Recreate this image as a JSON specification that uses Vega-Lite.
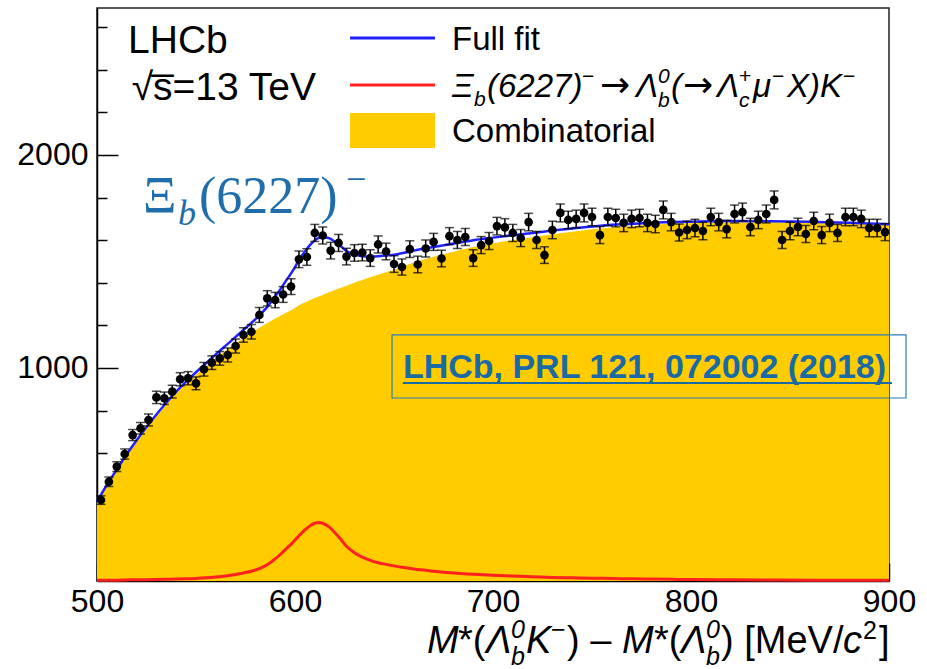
{
  "$schema": "https://vega.github.io/schema/vega-lite/v6.json",
  "width": 792,
  "height": 573,
  "autosize": "none",
  "padding": {"left": 97, "top": 8, "right": 38, "bottom": 88},
  "background": "white",
  "config": {
    "view": {"stroke": "#222", "strokeWidth": 1.5},
    "font": "Liberation Sans",
    "axis": {"labelOverlap": false, "labelBound": false, "labelFlush": false, "grid": false, "title": null, "zindex": 1},
    "text": {"font": "Liberation Sans", "align": "left", "baseline": "alphabetic", "color": "#000"}
  },
  "datasets": {
    "bins": [
      {"m": 502, "n": 380, "e": 20}, {"m": 506, "n": 466, "e": 22}, {"m": 510, "n": 537, "e": 23}, {"m": 514, "n": 596, "e": 24},
      {"m": 518, "n": 685, "e": 26}, {"m": 522, "n": 717, "e": 27}, {"m": 526, "n": 756, "e": 28}, {"m": 530, "n": 862, "e": 29},
      {"m": 534, "n": 858, "e": 29}, {"m": 538, "n": 889, "e": 30}, {"m": 542, "n": 947, "e": 31}, {"m": 546, "n": 952, "e": 31},
      {"m": 550, "n": 928, "e": 30}, {"m": 554, "n": 994, "e": 32}, {"m": 558, "n": 1025, "e": 32}, {"m": 562, "n": 1045, "e": 32},
      {"m": 566, "n": 1061, "e": 33}, {"m": 570, "n": 1103, "e": 33}, {"m": 574, "n": 1155, "e": 34}, {"m": 578, "n": 1170, "e": 34},
      {"m": 582, "n": 1249, "e": 35}, {"m": 586, "n": 1327, "e": 36}, {"m": 590, "n": 1319, "e": 36}, {"m": 594, "n": 1345, "e": 37},
      {"m": 598, "n": 1382, "e": 37}, {"m": 602, "n": 1510, "e": 39}, {"m": 606, "n": 1521, "e": 39}, {"m": 610, "n": 1634, "e": 40},
      {"m": 614, "n": 1622, "e": 40}, {"m": 618, "n": 1551, "e": 39}, {"m": 622, "n": 1587, "e": 40}, {"m": 626, "n": 1523, "e": 39},
      {"m": 630, "n": 1540, "e": 39}, {"m": 634, "n": 1542, "e": 39}, {"m": 638, "n": 1516, "e": 39}, {"m": 642, "n": 1580, "e": 40},
      {"m": 646, "n": 1547, "e": 39}, {"m": 650, "n": 1488, "e": 39}, {"m": 654, "n": 1474, "e": 38}, {"m": 658, "n": 1558, "e": 39},
      {"m": 662, "n": 1486, "e": 39}, {"m": 666, "n": 1561, "e": 40}, {"m": 670, "n": 1592, "e": 40}, {"m": 674, "n": 1514, "e": 39},
      {"m": 678, "n": 1619, "e": 40}, {"m": 682, "n": 1601, "e": 40}, {"m": 686, "n": 1615, "e": 40}, {"m": 690, "n": 1516, "e": 39},
      {"m": 694, "n": 1577, "e": 40}, {"m": 698, "n": 1596, "e": 40}, {"m": 702, "n": 1666, "e": 41}, {"m": 706, "n": 1660, "e": 41},
      {"m": 710, "n": 1634, "e": 40}, {"m": 714, "n": 1610, "e": 40}, {"m": 718, "n": 1685, "e": 41}, {"m": 722, "n": 1601, "e": 40},
      {"m": 726, "n": 1530, "e": 39}, {"m": 730, "n": 1648, "e": 41}, {"m": 734, "n": 1728, "e": 42}, {"m": 738, "n": 1695, "e": 41},
      {"m": 742, "n": 1700, "e": 41}, {"m": 746, "n": 1728, "e": 42}, {"m": 750, "n": 1709, "e": 41}, {"m": 754, "n": 1624, "e": 40},
      {"m": 758, "n": 1709, "e": 41}, {"m": 762, "n": 1704, "e": 41}, {"m": 766, "n": 1681, "e": 41}, {"m": 770, "n": 1700, "e": 41},
      {"m": 774, "n": 1704, "e": 41}, {"m": 778, "n": 1681, "e": 41}, {"m": 782, "n": 1676, "e": 41}, {"m": 786, "n": 1742, "e": 42},
      {"m": 790, "n": 1685, "e": 41}, {"m": 794, "n": 1636, "e": 40}, {"m": 798, "n": 1648, "e": 41}, {"m": 802, "n": 1657, "e": 41},
      {"m": 806, "n": 1643, "e": 41}, {"m": 810, "n": 1709, "e": 41}, {"m": 814, "n": 1685, "e": 41}, {"m": 818, "n": 1652, "e": 41},
      {"m": 822, "n": 1723, "e": 42}, {"m": 826, "n": 1732, "e": 42}, {"m": 830, "n": 1662, "e": 41}, {"m": 834, "n": 1695, "e": 41},
      {"m": 838, "n": 1723, "e": 42}, {"m": 842, "n": 1789, "e": 42}, {"m": 846, "n": 1601, "e": 40}, {"m": 850, "n": 1643, "e": 41},
      {"m": 854, "n": 1662, "e": 41}, {"m": 858, "n": 1629, "e": 40}, {"m": 862, "n": 1690, "e": 41}, {"m": 866, "n": 1624, "e": 40},
      {"m": 870, "n": 1681, "e": 41}, {"m": 874, "n": 1634, "e": 40}, {"m": 878, "n": 1709, "e": 41}, {"m": 882, "n": 1709, "e": 41},
      {"m": 886, "n": 1700, "e": 41}, {"m": 890, "n": 1657, "e": 41}, {"m": 894, "n": 1657, "e": 41}, {"m": 898, "n": 1638, "e": 40}
    ],
    "fit": [
      {"m": 500, "comb": 370, "sig": 3, "full": 373}, {"m": 505, "comb": 447, "sig": 4, "full": 451},
      {"m": 510, "comb": 520, "sig": 4, "full": 524}, {"m": 515, "comb": 590, "sig": 5, "full": 595},
      {"m": 520, "comb": 655, "sig": 6, "full": 661}, {"m": 525, "comb": 717, "sig": 6, "full": 723},
      {"m": 530, "comb": 775, "sig": 7, "full": 782}, {"m": 535, "comb": 829, "sig": 8, "full": 837},
      {"m": 540, "comb": 880, "sig": 9, "full": 889}, {"m": 545, "comb": 926, "sig": 10, "full": 936},
      {"m": 550, "comb": 968, "sig": 12, "full": 980}, {"m": 555, "comb": 1007, "sig": 15, "full": 1022},
      {"m": 560, "comb": 1045, "sig": 19, "full": 1064}, {"m": 565, "comb": 1081, "sig": 24, "full": 1105},
      {"m": 570, "comb": 1115, "sig": 31, "full": 1146}, {"m": 574, "comb": 1141, "sig": 38, "full": 1179},
      {"m": 578, "comb": 1166, "sig": 46, "full": 1212}, {"m": 582, "comb": 1189, "sig": 58, "full": 1247},
      {"m": 586, "comb": 1211, "sig": 76, "full": 1287}, {"m": 590, "comb": 1232, "sig": 104, "full": 1336},
      {"m": 593, "comb": 1247, "sig": 128, "full": 1375}, {"m": 596, "comb": 1262, "sig": 155, "full": 1417},
      {"m": 599, "comb": 1276, "sig": 182, "full": 1458}, {"m": 602, "comb": 1294, "sig": 212, "full": 1506},
      {"m": 605, "comb": 1307, "sig": 240, "full": 1547}, {"m": 608, "comb": 1320, "sig": 262, "full": 1582},
      {"m": 610, "comb": 1328, "sig": 271, "full": 1599}, {"m": 612, "comb": 1336, "sig": 275, "full": 1611},
      {"m": 614, "comb": 1343, "sig": 271, "full": 1614}, {"m": 617, "comb": 1355, "sig": 255, "full": 1610},
      {"m": 620, "comb": 1366, "sig": 228, "full": 1594}, {"m": 623, "comb": 1376, "sig": 197, "full": 1573},
      {"m": 626, "comb": 1386, "sig": 163, "full": 1549}, {"m": 630, "comb": 1400, "sig": 133, "full": 1533},
      {"m": 634, "comb": 1413, "sig": 112, "full": 1525}, {"m": 638, "comb": 1426, "sig": 97, "full": 1523},
      {"m": 642, "comb": 1438, "sig": 86, "full": 1524}, {"m": 646, "comb": 1450, "sig": 78, "full": 1528},
      {"m": 650, "comb": 1461, "sig": 71, "full": 1532}, {"m": 655, "comb": 1478, "sig": 63, "full": 1541},
      {"m": 660, "comb": 1495, "sig": 56, "full": 1551}, {"m": 670, "comb": 1522, "sig": 46, "full": 1568},
      {"m": 680, "comb": 1546, "sig": 38, "full": 1584}, {"m": 690, "comb": 1568, "sig": 32, "full": 1600},
      {"m": 700, "comb": 1585, "sig": 27, "full": 1612}, {"m": 710, "comb": 1600, "sig": 23, "full": 1623},
      {"m": 720, "comb": 1614, "sig": 20, "full": 1634}, {"m": 730, "comb": 1628, "sig": 17, "full": 1645},
      {"m": 740, "comb": 1640, "sig": 15, "full": 1655}, {"m": 750, "comb": 1651, "sig": 13, "full": 1664},
      {"m": 760, "comb": 1660, "sig": 12, "full": 1672}, {"m": 770, "comb": 1667, "sig": 10, "full": 1677},
      {"m": 780, "comb": 1673, "sig": 9, "full": 1682}, {"m": 790, "comb": 1677, "sig": 8, "full": 1685},
      {"m": 800, "comb": 1680, "sig": 7, "full": 1687}, {"m": 820, "comb": 1684, "sig": 6, "full": 1690},
      {"m": 840, "comb": 1684, "sig": 5, "full": 1689}, {"m": 860, "comb": 1682, "sig": 4, "full": 1686},
      {"m": 880, "comb": 1678, "sig": 4, "full": 1682}, {"m": 900, "comb": 1672, "sig": 3, "full": 1675}
    ],
    "one": [{}]
  },
  "resolve": {"axis": {"x": "independent", "y": "independent"}},
  "layer": [
    {
      "layer": [
        {
          "data": {"name": "fit"},
          "mark": {"type": "area", "color": "#ffcc00", "interpolate": "monotone"},
          "encoding": {
            "x": {
              "field": "m", "type": "quantitative", "title": null,
              "scale": {"domain": [500, 900], "nice": false, "zero": false},
              "axis": {
                "title": null,
                "values": [500, 600, 700, 800, 900],
                "labelFont": "Liberation Sans", "labelFontSize": 32, "labelColor": "#000",
                "labelBaseline": "top", "labelPadding": 23,
                "tickSize": -18, "tickColor": "#000", "tickWidth": 1.5,
                "domainColor": "#000", "domainWidth": 1.5
              }
            },
            "y": {
              "field": "comb", "type": "quantitative", "title": null,
              "scale": {"domain": [0, 2690], "nice": false, "zero": false},
              "axis": {
                "title": null,
                "values": [1000, 2000], "format": "d",
                "labelFont": "Liberation Sans", "labelFontSize": 32, "labelColor": "#000",
                "labelBaseline": "middle", "labelPadding": 30,
                "tickSize": -21, "tickColor": "#000", "tickWidth": 1.5,
                "domainColor": "#000", "domainWidth": 1.5
              }
            }
          }
        },
        {
          "data": {"name": "fit"},
          "mark": {"type": "line", "color": "#2020ff", "strokeWidth": 2.5, "interpolate": "monotone"},
          "encoding": {"x": {"field": "m", "type": "quantitative", "title": null}, "y": {"field": "full", "type": "quantitative", "title": null}}
        },
        {
          "data": {"name": "bins"},
          "mark": {"type": "errorbar", "color": "#000", "thickness": 1.5, "ticks": {"size": 9, "thickness": 1.5, "color": "#000"}},
          "encoding": {
            "x": {"field": "m", "type": "quantitative", "title": null},
            "y": {"field": "n", "type": "quantitative", "title": null},
            "yError": {"field": "e"}
          }
        },
        {
          "data": {"name": "bins"},
          "mark": {"type": "circle", "color": "#000", "opacity": 1, "size": 75},
          "encoding": {"x": {"field": "m", "type": "quantitative", "title": null}, "y": {"field": "n", "type": "quantitative", "title": null}}
        },
        {
          "data": {"name": "one"},
          "mark": {"type": "text", "text": "LHCb", "fontSize": 39},
          "encoding": {"x": {"datum": 515.7}, "y": {"datum": 2479}}
        },
        {
          "data": {"name": "one"},
          "mark": {"type": "text", "text": "√s̅=13 TeV", "fontSize": 39},
          "encoding": {"x": {"datum": 517.5}, "y": {"datum": 2258}}
        },
        {
          "data": {"name": "one"},
          "mark": {"type": "text", "text": "Ξ", "font": "Liberation Serif", "fontSize": 52, "color": "#1f6eab"},
          "encoding": {"x": {"datum": 523.2}, "y": {"datum": 1728}}
        },
        {
          "data": {"name": "one"},
          "mark": {"type": "text", "text": "b", "font": "Liberation Serif", "fontStyle": "italic", "fontSize": 36, "color": "#1f6eab", "dx": 35, "dy": 12},
          "encoding": {"x": {"datum": 523.2}, "y": {"datum": 1728}}
        },
        {
          "data": {"name": "one"},
          "mark": {"type": "text", "text": "(6227)", "font": "Liberation Serif", "fontSize": 52, "color": "#1f6eab", "dx": 56},
          "encoding": {"x": {"datum": 523.2}, "y": {"datum": 1728}}
        },
        {
          "data": {"name": "one"},
          "mark": {"type": "text", "text": "−", "font": "Liberation Serif", "fontSize": 36, "color": "#1f6eab", "dx": 203, "dy": -22},
          "encoding": {"x": {"datum": 523.2}, "y": {"datum": 1728}}
        },
        {
          "data": {"name": "one"},
          "mark": {"type": "rect", "filled": false, "color": "#2b7bb9", "strokeWidth": 1.2},
          "encoding": {"x": {"datum": 649.0}, "x2": {"datum": 908.6}, "y": {"datum": 1155}, "y2": {"datum": 859}}
        },
        {
          "data": {"name": "one"},
          "mark": {"type": "text", "text": "LHCb, PRL 121, 072002 (2018)", "fontWeight": "bold", "fontSize": 34, "color": "#1a6aa6"},
          "encoding": {"x": {"datum": 654.5}, "y": {"datum": 952.9}}
        },
        {
          "data": {"name": "one"},
          "mark": {"type": "rule", "color": "#1a6aa6", "strokeWidth": 2},
          "encoding": {"x": {"datum": 654.5}, "x2": {"datum": 901.5}, "y": {"datum": 929.5}}
        },
        {
          "data": {"name": "one"},
          "mark": {"type": "rule", "color": "#2020ff", "strokeWidth": 3},
          "encoding": {"x": {"datum": 627.8}, "x2": {"datum": 670.7}, "y": {"datum": 2549}}
        },
        {
          "data": {"name": "one"},
          "mark": {"type": "rule", "color": "#ff2020", "strokeWidth": 3},
          "encoding": {"x": {"datum": 627.8}, "x2": {"datum": 670.7}, "y": {"datum": 2328}}
        },
        {
          "data": {"name": "one"},
          "mark": {"type": "rect", "color": "#ffcc00"},
          "encoding": {"x": {"datum": 627.8}, "x2": {"datum": 670.7}, "y": {"datum": 2197}, "y2": {"datum": 2033}}
        },
        {
          "data": {"name": "one"},
          "mark": {"type": "text", "text": "Full fit", "fontSize": 33},
          "encoding": {"x": {"datum": 679.3}, "y": {"datum": 2493}}
        },
        {
          "data": {"name": "one"},
          "mark": {"type": "text", "text": "Combinatorial", "fontSize": 33},
          "encoding": {"x": {"datum": 679.3}, "y": {"datum": 2061}}
        },
        {"data": {"name": "one"}, "mark": {"type": "text", "text": "Ξ", "fontStyle": "italic", "fontSize": 33, "dx": 0}, "encoding": {"x": {"datum": 679.3}, "y": {"datum": 2272}}},
        {"data": {"name": "one"}, "mark": {"type": "text", "text": "b", "fontStyle": "italic", "fontSize": 21, "dx": 22, "dy": 9}, "encoding": {"x": {"datum": 679.3}, "y": {"datum": 2272}}},
        {"data": {"name": "one"}, "mark": {"type": "text", "text": "(6227)", "fontStyle": "italic", "fontSize": 33, "dx": 35}, "encoding": {"x": {"datum": 679.3}, "y": {"datum": 2272}}},
        {"data": {"name": "one"}, "mark": {"type": "text", "text": "−", "fontSize": 21, "dx": 130, "dy": -14}, "encoding": {"x": {"datum": 679.3}, "y": {"datum": 2272}}},
        {"data": {"name": "one"}, "mark": {"type": "text", "text": "→", "font": "DejaVu Sans", "fontSize": 36, "dx": 148}, "encoding": {"x": {"datum": 679.3}, "y": {"datum": 2272}}},
        {"data": {"name": "one"}, "mark": {"type": "text", "text": "Λ", "fontStyle": "italic", "fontSize": 33, "dx": 184}, "encoding": {"x": {"datum": 679.3}, "y": {"datum": 2272}}},
        {"data": {"name": "one"}, "mark": {"type": "text", "text": "0", "fontStyle": "italic", "fontSize": 21, "dx": 206, "dy": -14}, "encoding": {"x": {"datum": 679.3}, "y": {"datum": 2272}}},
        {"data": {"name": "one"}, "mark": {"type": "text", "text": "b", "fontStyle": "italic", "fontSize": 21, "dx": 206, "dy": 10}, "encoding": {"x": {"datum": 679.3}, "y": {"datum": 2272}}},
        {"data": {"name": "one"}, "mark": {"type": "text", "text": "(", "fontStyle": "italic", "fontSize": 33, "dx": 219}, "encoding": {"x": {"datum": 679.3}, "y": {"datum": 2272}}},
        {"data": {"name": "one"}, "mark": {"type": "text", "text": "→", "font": "DejaVu Sans", "fontSize": 36, "dx": 231}, "encoding": {"x": {"datum": 679.3}, "y": {"datum": 2272}}},
        {"data": {"name": "one"}, "mark": {"type": "text", "text": "Λ", "fontStyle": "italic", "fontSize": 33, "dx": 265}, "encoding": {"x": {"datum": 679.3}, "y": {"datum": 2272}}},
        {"data": {"name": "one"}, "mark": {"type": "text", "text": "+", "fontSize": 21, "dx": 287, "dy": -14}, "encoding": {"x": {"datum": 679.3}, "y": {"datum": 2272}}},
        {"data": {"name": "one"}, "mark": {"type": "text", "text": "c", "fontStyle": "italic", "fontSize": 21, "dx": 287, "dy": 10}, "encoding": {"x": {"datum": 679.3}, "y": {"datum": 2272}}},
        {"data": {"name": "one"}, "mark": {"type": "text", "text": "μ", "fontStyle": "italic", "fontSize": 33, "dx": 301}, "encoding": {"x": {"datum": 679.3}, "y": {"datum": 2272}}},
        {"data": {"name": "one"}, "mark": {"type": "text", "text": "−", "fontSize": 21, "dx": 320, "dy": -14}, "encoding": {"x": {"datum": 679.3}, "y": {"datum": 2272}}},
        {"data": {"name": "one"}, "mark": {"type": "text", "text": "X)K", "fontStyle": "italic", "fontSize": 33, "dx": 335}, "encoding": {"x": {"datum": 679.3}, "y": {"datum": 2272}}},
        {"data": {"name": "one"}, "mark": {"type": "text", "text": "−", "fontSize": 21, "dx": 391, "dy": -14}, "encoding": {"x": {"datum": 679.3}, "y": {"datum": 2272}}},
        {"data": {"name": "one"}, "mark": {"type": "text", "text": "M", "fontStyle": "italic", "fontSize": 38, "dx": -462, "dy": 72}, "encoding": {"x": {"datum": 900}, "y": {"datum": 0}}},
        {"data": {"name": "one"}, "mark": {"type": "text", "text": "*(", "fontSize": 38, "dx": -431, "dy": 72}, "encoding": {"x": {"datum": 900}, "y": {"datum": 0}}},
        {"data": {"name": "one"}, "mark": {"type": "text", "text": "Λ", "fontStyle": "italic", "fontSize": 38, "dx": -403, "dy": 72}, "encoding": {"x": {"datum": 900}, "y": {"datum": 0}}},
        {"data": {"name": "one"}, "mark": {"type": "text", "text": "0", "fontStyle": "italic", "fontSize": 25, "dx": -378, "dy": 57}, "encoding": {"x": {"datum": 900}, "y": {"datum": 0}}},
        {"data": {"name": "one"}, "mark": {"type": "text", "text": "b", "fontStyle": "italic", "fontSize": 25, "dx": -378, "dy": 84}, "encoding": {"x": {"datum": 900}, "y": {"datum": 0}}},
        {"data": {"name": "one"}, "mark": {"type": "text", "text": "K", "fontStyle": "italic", "fontSize": 38, "dx": -363, "dy": 72}, "encoding": {"x": {"datum": 900}, "y": {"datum": 0}}},
        {"data": {"name": "one"}, "mark": {"type": "text", "text": "−", "fontSize": 25, "dx": -338, "dy": 57}, "encoding": {"x": {"datum": 900}, "y": {"datum": 0}}},
        {"data": {"name": "one"}, "mark": {"type": "text", "text": ") – ", "fontSize": 38, "dx": -322, "dy": 72}, "encoding": {"x": {"datum": 900}, "y": {"datum": 0}}},
        {"data": {"name": "one"}, "mark": {"type": "text", "text": "M", "fontStyle": "italic", "fontSize": 38, "dx": -267, "dy": 72}, "encoding": {"x": {"datum": 900}, "y": {"datum": 0}}},
        {"data": {"name": "one"}, "mark": {"type": "text", "text": "*(", "fontSize": 38, "dx": -235, "dy": 72}, "encoding": {"x": {"datum": 900}, "y": {"datum": 0}}},
        {"data": {"name": "one"}, "mark": {"type": "text", "text": "Λ", "fontStyle": "italic", "fontSize": 38, "dx": -208, "dy": 72}, "encoding": {"x": {"datum": 900}, "y": {"datum": 0}}},
        {"data": {"name": "one"}, "mark": {"type": "text", "text": "0", "fontStyle": "italic", "fontSize": 25, "dx": -183, "dy": 57}, "encoding": {"x": {"datum": 900}, "y": {"datum": 0}}},
        {"data": {"name": "one"}, "mark": {"type": "text", "text": "b", "fontStyle": "italic", "fontSize": 25, "dx": -183, "dy": 84}, "encoding": {"x": {"datum": 900}, "y": {"datum": 0}}},
        {"data": {"name": "one"}, "mark": {"type": "text", "text": ") [MeV/", "fontSize": 38, "dx": -168, "dy": 72}, "encoding": {"x": {"datum": 900}, "y": {"datum": 0}}},
        {"data": {"name": "one"}, "mark": {"type": "text", "text": "c", "fontStyle": "italic", "fontSize": 38, "dx": -46, "dy": 72}, "encoding": {"x": {"datum": 900}, "y": {"datum": 0}}},
        {"data": {"name": "one"}, "mark": {"type": "text", "text": "2", "fontSize": 25, "dx": -26, "dy": 58}, "encoding": {"x": {"datum": 900}, "y": {"datum": 0}}},
        {"data": {"name": "one"}, "mark": {"type": "text", "text": "]", "fontSize": 38, "dx": -10, "dy": 72}, "encoding": {"x": {"datum": 900}, "y": {"datum": 0}}}
      ]
    },
    {
      "data": {"name": "fit"},
      "mark": {"type": "line", "color": "#ff2020", "strokeWidth": 3, "interpolate": "monotone"},
      "encoding": {
        "x": {
          "field": "m", "type": "quantitative", "title": null,
          "scale": {"domain": [500, 900], "nice": false, "zero": false},
          "axis": {
            "title": null, "orient": "bottom", "labels": false, "domain": false,
            "values": [520, 540, 560, 580, 620, 640, 660, 680, 720, 740, 760, 780, 820, 840, 860, 880],
            "tickSize": -9, "tickColor": "#000", "tickWidth": 1.5
          }
        },
        "y": {
          "field": "sig", "type": "quantitative", "title": null,
          "scale": {"domain": [0, 2690], "nice": false, "zero": false},
          "axis": {
            "title": null, "orient": "left", "labels": false, "domain": false,
            "values": [200, 400, 600, 800, 1200, 1400, 1600, 1800, 2200, 2400, 2600],
            "tickSize": -10, "tickColor": "#000", "tickWidth": 1.5
          }
        }
      }
    }
  ]
}
